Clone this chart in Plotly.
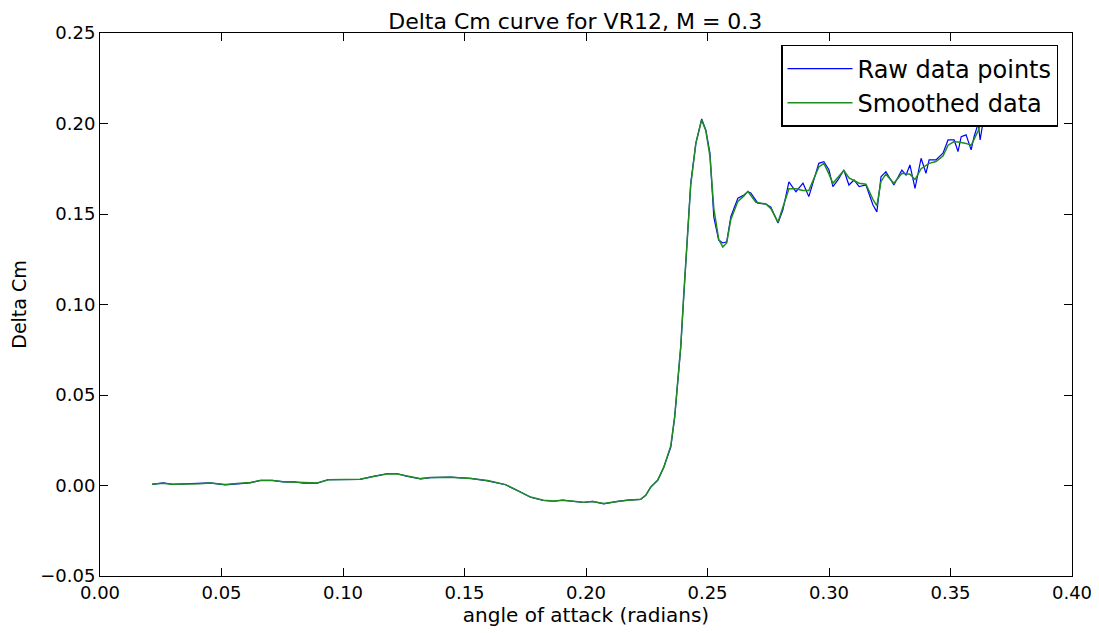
import plotly.graph_objects as go

# raw data points (angle of attack in radians, delta Cm)
raw_alpha = [
    0.0214, 0.0260, 0.0297, 0.0350, 0.0410, 0.0453, 0.0515, 0.0577, 0.0618, 0.0660,
    0.0709, 0.0755, 0.0800, 0.0837, 0.0894, 0.0940, 0.1000, 0.1070, 0.1125, 0.1180,
    0.1224, 0.1265, 0.1319, 0.1360, 0.1442, 0.1525, 0.1595, 0.1669, 0.1718, 0.1772,
    0.1825, 0.1867, 0.1904, 0.1945, 0.1990, 0.2027, 0.2073, 0.2130, 0.2171, 0.2225,
    0.2246, 0.2266, 0.2295, 0.2320, 0.2349, 0.2365, 0.2377, 0.2390, 0.2402, 0.2419,
    0.2431, 0.2452, 0.2476, 0.2493, 0.2510, 0.2526, 0.2546, 0.2563, 0.2579, 0.2596,
    0.2625, 0.2650, 0.2666, 0.2678, 0.2707, 0.2740, 0.2761, 0.2790, 0.2810, 0.2835,
    0.2864, 0.2893, 0.2917, 0.2958, 0.2979, 0.3000, 0.3016, 0.3037, 0.3061, 0.3082,
    0.3103, 0.3124, 0.3152, 0.3181, 0.3197, 0.3214, 0.3234, 0.3267, 0.3300, 0.3317,
    0.3333, 0.3354, 0.3379, 0.3399, 0.3412, 0.3440, 0.3469, 0.3490, 0.3515, 0.3531,
    0.3544, 0.3564, 0.3585, 0.3597, 0.3614, 0.3622, 0.3634, 0.3655, 0.3680,
]
raw_dcm = [
    0.0006, 0.0015, 0.0006, 0.0008, 0.0010, 0.0015, 0.0004, 0.0013, 0.0015, 0.0028,
    0.0028, 0.0020, 0.0020, 0.0013, 0.0013, 0.0033, 0.0033, 0.0034, 0.0050, 0.0065,
    0.0065, 0.0050, 0.0037, 0.0044, 0.0046, 0.0039, 0.0026, 0.0004, -0.0028, -0.0065,
    -0.0083, -0.0087, -0.0081, -0.0088, -0.0094, -0.0088, -0.0101, -0.0088, -0.0081, -0.0077,
    -0.0055, -0.0009, 0.0028, 0.0101, 0.0212, 0.0378, 0.0563, 0.0765, 0.1040, 0.1395,
    0.1670, 0.1890, 0.2025, 0.1965, 0.1837, 0.1483, 0.1356, 0.1340, 0.1346, 0.1485,
    0.1587, 0.1605, 0.1623, 0.1616, 0.1560, 0.1555, 0.1538, 0.1450, 0.1522, 0.1678,
    0.1623, 0.1670, 0.1596, 0.1780, 0.1789, 0.1743, 0.1651, 0.1688, 0.1743, 0.1660,
    0.1688, 0.1651, 0.1660, 0.1550, 0.1512, 0.1706, 0.1734, 0.1660, 0.1743, 0.1715,
    0.1771, 0.1642, 0.1808, 0.1725, 0.1799, 0.1799, 0.1836, 0.1909, 0.1909, 0.1845,
    0.1927, 0.1937, 0.1854, 0.1927, 0.2001, 0.1909, 0.2010, 0.2120, 0.2220,
]

# smoothed data
smooth_alpha = [
    0.0214, 0.0260, 0.0300, 0.0410, 0.0453, 0.0515, 0.0577, 0.0618, 0.0660, 0.0709,
    0.0755, 0.0800, 0.0837, 0.0894, 0.0940, 0.1070, 0.1125, 0.1180, 0.1224, 0.1265,
    0.1319, 0.1360, 0.1442, 0.1525, 0.1595, 0.1669, 0.1718, 0.1772, 0.1825, 0.1867,
    0.1904, 0.1945, 0.1990, 0.2027, 0.2073, 0.2130, 0.2171, 0.2225, 0.2246, 0.2266,
    0.2295, 0.2320, 0.2349, 0.2365, 0.2377, 0.2390, 0.2402, 0.2419, 0.2431, 0.2452,
    0.2476, 0.2493, 0.2510, 0.2526, 0.2546, 0.2563, 0.2579, 0.2596, 0.2625, 0.2650,
    0.2666, 0.2699, 0.2740, 0.2761, 0.2790, 0.2835, 0.2864, 0.2893, 0.2917, 0.2958,
    0.2979, 0.3000, 0.3016, 0.3061, 0.3082, 0.3124, 0.3152, 0.3181, 0.3197, 0.3214,
    0.3234, 0.3267, 0.3300, 0.3333, 0.3354, 0.3379, 0.3412, 0.3440, 0.3469, 0.3490,
    0.3515, 0.3544, 0.3564, 0.3585, 0.3614, 0.3634, 0.3655, 0.3680,
]
smooth_dcm = [
    0.0007, 0.0013, 0.0007, 0.0009, 0.0014, 0.0005, 0.0012, 0.0016, 0.0027, 0.0027,
    0.0021, 0.0019, 0.0014, 0.0014, 0.0032, 0.0034, 0.0050, 0.0064, 0.0064, 0.0051,
    0.0038, 0.0044, 0.0046, 0.0039, 0.0027, 0.0005, -0.0028, -0.0064, -0.0082, -0.0086,
    -0.0082, -0.0088, -0.0092, -0.0089, -0.0099, -0.0088, -0.0081, -0.0076, -0.0053, -0.0010,
    0.0030, 0.0100, 0.0220, 0.0380, 0.0560, 0.0770, 0.1050, 0.1400, 0.1660, 0.1890,
    0.2020, 0.1960, 0.1820, 0.1530, 0.1360, 0.1318, 0.1340, 0.1470, 0.1570, 0.1600,
    0.1625, 0.1565, 0.1555, 0.1530, 0.1455, 0.1640, 0.1640, 0.1630, 0.1630, 0.1760,
    0.1780, 0.1720, 0.1670, 0.1740, 0.1700, 0.1670, 0.1665, 0.1580, 0.1545, 0.1680,
    0.1720, 0.1670, 0.1725, 0.1720, 0.1690, 0.1750, 0.1780, 0.1790, 0.1820, 0.1880,
    0.1900, 0.1895, 0.1890, 0.1880, 0.1960, 0.2040, 0.2120, 0.2220,
]

FONT = "DejaVu Sans"

fig = go.Figure()
fig.add_trace(go.Scatter(x=raw_alpha, y=raw_dcm, mode="lines", name="Raw data points",
                         line=dict(color="#0000ff", width=1.2)))
fig.add_trace(go.Scatter(x=smooth_alpha, y=smooth_dcm, mode="lines", name="Smoothed data",
                         line=dict(color="#1f8c1f", width=1.5)))

axis_style = dict(
    showgrid=False, zeroline=False, showline=True, linecolor="black", linewidth=1,
    mirror="ticks", ticks="inside", ticklen=8, tickcolor="black", automargin=False,
    tickfont=dict(family=FONT, size=18, color="black"), tickformat=".2f",
)

# page body has an 8px margin, so the figure is a little smaller than the window
fig.update_layout(
    width=1091, height=625,
    margin=dict(l=92, r=27, t=25, b=57),
    paper_bgcolor="white", plot_bgcolor="white",
    title=dict(text="Delta Cm curve for VR12, M = 0.3", xref="paper", x=0.489, xanchor="center",
               y=0.979, yanchor="middle", font=dict(family=FONT, size=22, color="black")),
    xaxis=dict(range=[0, 0.4], dtick=0.05, title=dict(text="angle of attack (radians)",
               font=dict(family=FONT, size=20, color="black"), standoff=2), **axis_style),
    yaxis=dict(range=[-0.05, 0.25], dtick=0.05, title=dict(text="Delta Cm",
               font=dict(family=FONT, size=19, color="black"), standoff=10), **axis_style),
    legend=dict(x=0.9856, y=0.978, xanchor="right", yanchor="top", bgcolor="white",
                bordercolor="black", borderwidth=1.5, itemwidth=65,
                font=dict(family=FONT, size=24, color="black")),
)

fig.write_html("out.html")
